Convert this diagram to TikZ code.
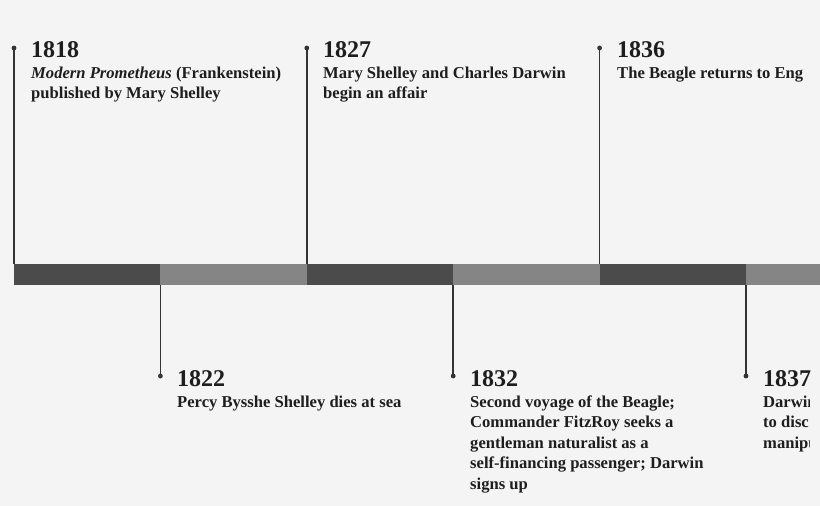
\documentclass[tikz,border=0pt]{standalone}
\usepackage{fontspec}
\setmainfont{Liberation Serif}
\definecolor{bgc}{HTML}{F4F4F4}
\definecolor{segD}{HTML}{4B4B4B}
\definecolor{segL}{HTML}{858585}
\definecolor{inkc}{HTML}{1E1E1E}
\definecolor{linec}{HTML}{333333}
\tikzset{
  segdark/.style={fill=segD, draw=none, minimum width=146.4pt, minimum height=20.5pt, inner sep=0pt, outer sep=0pt, anchor=north west},
  seglight/.style={segdark, fill=segL},
  dotn/.style={circle, fill=linec, minimum size=4.8pt, inner sep=0pt, outer sep=0pt},
  conn/.style={draw=linec, line width=1.6pt},
  yearf/.style={font=\fontsize{24}{28}\selectfont\bfseries, text=inkc, inner sep=0pt, anchor=base west},
  descf/.style={font=\fontsize{16.6}{20.5}\selectfont\bfseries, text=inkc, inner sep=0pt, anchor=base west},
}
\newcommand{\lines}[1]{\begin{tabular}[t]{@{}l@{}}#1\end{tabular}}
\begin{document}
\begin{tikzpicture}[x=1pt,y=-1pt]
\fill[bgc] (0,0) rectangle (820,506);
\useasboundingbox (0,0) rectangle (820,506);
\clip (0,0) rectangle (820,506);
% bar
\node[segdark]  (s1) at (14,264) {};
\node[seglight] (s2) at (160.4,264) {};
\node[segdark]  (s3) at (306.8,264) {};
\node[seglight] (s4) at (453.2,264) {};
\node[segdark]  (s5) at (599.6,264) {};
\node[seglight] (s6) at (746,264) {};
% top markers
\node[dotn] (d1) at (14,48) {};
\node[dotn] (d3) at (306.8,48) {};
\node[dotn] (d5) at (599.6,48) {};
\draw[conn] (d1.center) -- (s1.north west);
\draw[conn] (d3.center) -- (s3.north west);
\draw[conn] (d5.center) -- (s5.north west);
% bottom markers
\node[dotn] (d2) at (160.4,376) {};
\node[dotn] (d4) at (453.2,376) {};
\node[dotn] (d6) at (746,376) {};
\draw[conn] (s2.south west) -- (d2.center);
\draw[conn] (s4.south west) -- (d4.center);
\draw[conn] (s6.south west) -- (d6.center);
% texts top
\node[yearf] (y1) at (31,57) {1818};
\node[descf] (t1) at (31,78) {\lines{\textit{Modern Prometheus} (Frankenstein)\\published by Mary Shelley}};
\node[yearf] (y3) at (323,57) {1827};
\node[descf] (t3) at (323,78) {\lines{Mary Shelley and Charles Darwin\\begin an affair}};
\node[yearf] (y5) at (617,57) {1836};
\node[descf] (t5) at (617,78) {\lines{The Beagle returns to Eng}};
% texts bottom
\node[yearf] (y2) at (177,386) {1822};
\node[descf] (t2) at (177,407) {\lines{Percy Bysshe Shelley dies at sea}};
\node[yearf] (y4) at (470,386) {1832};
\node[descf] (t4) at (470,407) {\lines{Second voyage of the Beagle;\\Commander FitzRoy seeks a\\gentleman naturalist as a\\self-financing passenger; Darwin\\signs up}};
\node[yearf] (y6) at (763,386) {1837};
\begin{scope}
\clip (740,390) rectangle (809,470);
\node[descf] (t6) at (763,407) {\lines{Darwin\\to disc\\manipu}};
\end{scope}
\end{tikzpicture}
\end{document}
